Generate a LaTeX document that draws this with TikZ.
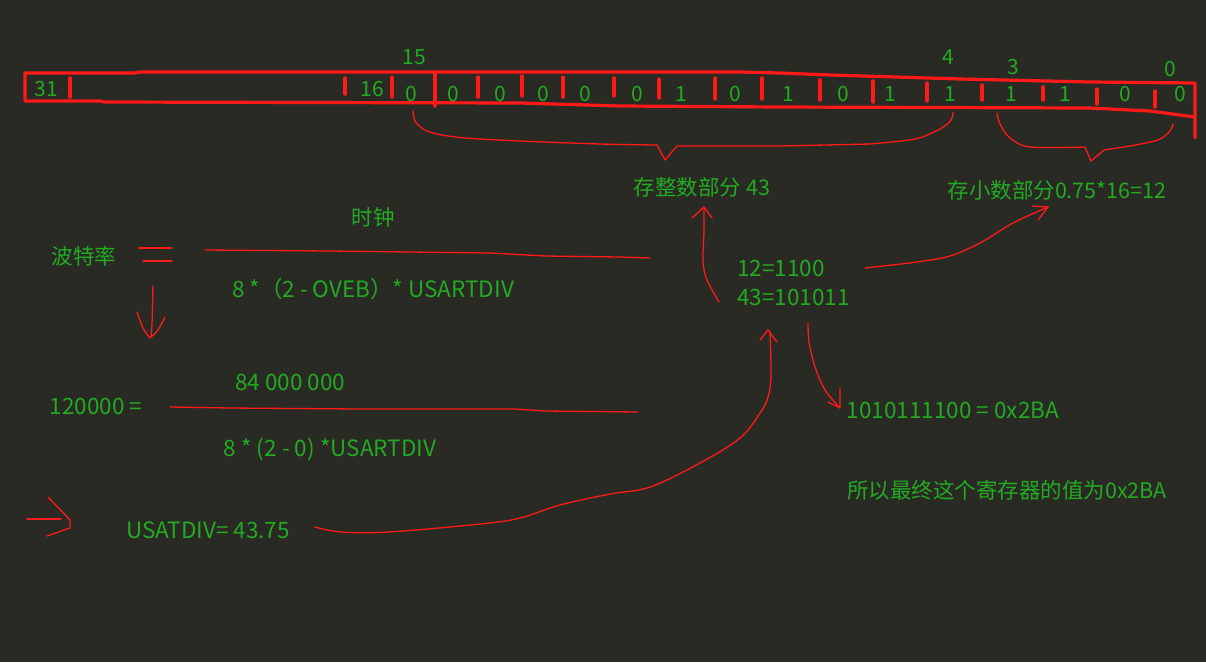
\documentclass[tikz,border=0pt]{standalone}
\usepackage{fontspec}
\setmainfont{Noto Sans CJK SC}
\usetikzlibrary{arrows.meta}
\definecolor{bgc}{HTML}{2A2A24}
\definecolor{grn}{HTML}{22AA22}
\definecolor{rd}{HTML}{FF1A1A}
\tikzset{
  lbl/.style={text=grn, font=\fontsize{21.5}{23}\selectfont, inner sep=0pt},
  lat/.style={text=grn, font=\fontsize{22.5}{24}\selectfont, inner sep=0pt},
  bit/.style={text=grn, font=\fontsize{21}{22}\selectfont, inner sep=0pt},
  thin/.style={draw=rd, line width=1.3pt, line cap=round, line join=round},
  thick/.style={draw=rd, line width=3.2pt, line cap=round, line join=round},
  divider/.style={draw=rd, line width=3.5pt, line cap=round}
}
\begin{document}
\begin{tikzpicture}[x=1pt,y=-1pt]
\fill[bgc] (0,0) rectangle (1206,662);
\useasboundingbox (0,0) rectangle (1206,662);

% register outline
\draw[thick] (25,73) -- (135,73) -- (140,72) -- (740,72) -- (780,73) -- (830,75) -- (960,79) -- (1090,82) -- (1195,83) -- (1195,138);
\draw[thick] (25,73) -- (25,101) -- (100,101) -- (105,102) -- (520,103) -- (620,106) -- (780,107) -- (1090,108) -- (1150,111) -- (1195,117);

% dividers
\foreach \x/\a/\b in {70/78/97, 345/78/94, 392/77/97, 478/77/97, 522/76/96, 563/77/97, 614/78/96, 659/79/98, 715/78/99, 762/78/99, 820/80/100, 873/81/102, 927/83/101, 982/85/100, 1043/87/100, 1097/89/104, 1155/91/107}
  \draw[divider] (\x,\a) -- (\x,\b);
\draw[divider] (435,74) -- (435,106);

% bit labels
\node[bit] (b31) at (46,89) {31};
\node[bit] (b16) at (372,89) {16};
\node[bit] (h15) at (414,57) {15};
\node[bit] (h4) at (948,57) {4};
\node[bit] (h3) at (1013,67) {3};
\node[bit] (h0) at (1170,69) {0};
\foreach \x/\v [count=\i] in {411/0,453/0,500/0,543/0,585/0,637/0,681/1,735/0,788/1,843/0,890/1,950/1,1011/1,1065/1,1125/0,1180/0}
  \node[bit] (d\i) at (\x,94) {\v};

% braces
\draw[thin] plot[smooth, tension=0.5] coordinates {(413,111) (415,121) (423,129) (437,134) (465,138) (520,141) (600,144) (657,145)} -- (665,160) -- (677,146) -- (780,146) -- (870,144) plot[smooth, tension=0.5] coordinates {(870,144) (915,139) (940,129) (951,120) (953,112)};
\draw[thin] plot[smooth, tension=0.5] coordinates {(997,113) (1000,124) (1010,138) (1030,147) (1085,147)} -- (1091,161) -- (1104,150) -- (1130,146) plot[smooth, tension=0.5] coordinates {(1130,146) (1158,140) (1170,131) (1173,124)};

% texts
\node[lbl] (int) at (702,187) {存整数部分 43};
\node[lbl] (frac) at (1057,190) {存小数部分0.75*16=12};
\node[lbl] (clk) at (373,217) {时钟};
\node[lbl] (baud) at (84,256) {波特率};
\node[lat] (den1) at (373,289) {8 *（2 - OVEB）* USARTDIV};
\node[lat, anchor=west] (b12) at (737,268) {12=1100};
\node[lat, anchor=west] (b43) at (737,297) {43=101011};
\node[lat] (num2) at (290,382) {84 000 000};
\node[lat] (lhs2) at (96,406) {120000 =};
\node[lat] (res) at (953,410) {1010111100 = 0x2BA};
\node[lat] (den2) at (330,449) {8 * (2 - 0) *USARTDIV};
\node[lbl] (final) at (1007,490) {所以最终这个寄存器的值为0x2BA};
\node[lat] (usat) at (208,530) {USATDIV= 43.75};

% equals sign and fraction lines
\draw[thin] (139,248) -- (172,248);
\draw[thin] (143,261) -- (172,261);
\draw[thin] (205,250) -- (330,251) -- (410,252) -- (490,253) -- (545,256) -- (620,257) -- (650,258);
\draw[thin] (170,407) -- (230,408) -- (360,409) -- (515,409) -- (545,411) -- (638,412);

% down arrow
\coordinate (da1) at (153,286);
\coordinate (da2) at (151,337);
\draw[thin] (da1) -- (152,325) -- (da2);
\draw[thin] plot[smooth] coordinates {(137,312) (143,328) (149,337) (da2) (158,330) (165,317)};

% right arrow
\coordinate (ra1) at (27,519);
\coordinate (ra2) at (70,520);
\draw[thin] (ra1) -- (61,519);
\draw[thin] (48,497) -- (ra2) -- (70,528) -- (47,536);

% arrow 43 -> int
\coordinate (a1s) at (719,302);
\coordinate (a1e) at (704,207);
\draw[thin] plot[smooth] coordinates {(a1s) (707,280) (703,262) (704,230) (a1e)};
\draw[thin] (692,218) -- (a1e) -- (712,218);

% arrow 12 -> frac
\coordinate (a2s) at (865,268);
\coordinate (a2e) at (1048,207);
\draw[thin] plot[smooth] coordinates {(a2s) (917,262) (950,256) (980,243) (1013,223) (a2e)};
\draw[thin] (1032,206) -- (a2e) -- (1038,220);

% arrow -> res
\coordinate (a3s) at (808,323);
\coordinate (a3e) at (840,408);
\draw[thin] plot[smooth] coordinates {(a3s) (809,342) (815,367) (825,390) (a3e)};
\draw[thin] (828,402) -- (a3e) -- (840,388);

% arrow usat -> b43
\coordinate (a4s) at (315,527);
\coordinate (a4e) at (770,332);
\draw[thin] plot[smooth, tension=0.6] coordinates {(a4s) (341,532) (388,532) (480,524) (520,518) (560,505) (610,494) (650,487) (700,463) (740,438) (760,413) (768,397) (771,375) (a4e)};
\draw[thin] (760,340) -- (768,330) -- (777,342);
\end{tikzpicture}
\end{document}
